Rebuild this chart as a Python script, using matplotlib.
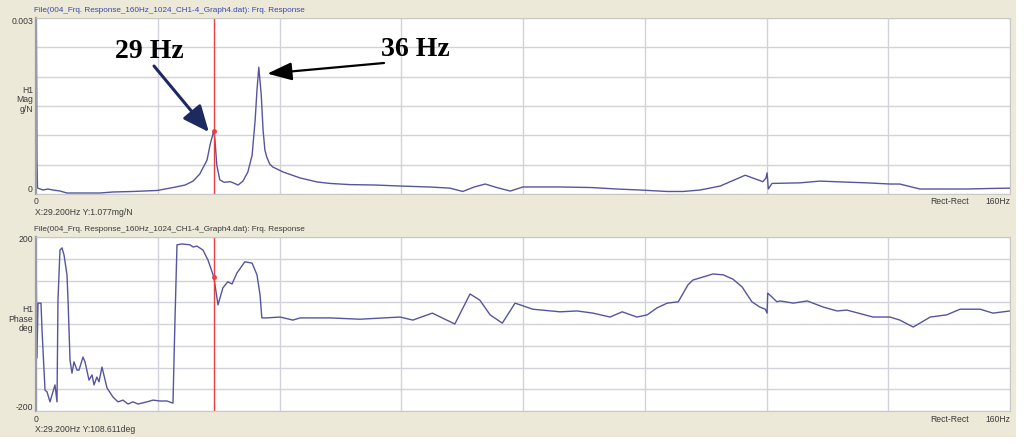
import matplotlib
matplotlib.use("Agg")
import matplotlib.pyplot as plt
from matplotlib.patches import Rectangle

# ---------------- data ----------------
mag_freq = [0.0, 0.16, 0.25, 1.15, 1.97, 2.79, 3.94, 5.09, 7.23, 10.5, 12.6, 15.9, 19.9,
            22.5, 24.5, 25.8, 26.9, 28.1, 28.6, 29.2, 29.4, 29.7, 30.2, 30.9, 31.9, 32.4,
            33.2, 34.0, 34.8, 35.5, 36.0, 36.3, 36.6, 37.0, 37.3, 37.6, 37.9, 38.4, 38.9,
            40.6, 43.4, 46.2, 48.3, 51.6, 55.7, 59.8, 64.7, 68.0, 70.1, 72.0, 73.8, 75.7,
            77.9, 80.0, 86.1, 91.3, 95.4, 99.2, 103.7, 106.3, 109.1, 112.4, 116.5, 119.4,
            119.9, 120.1, 120.3, 120.9, 125.5, 128.8, 133.7, 136.5, 140.3, 141.9, 145.2,
            147.3, 152.9, 156.7, 160.0]
mag_vals = [0.0040, 0.00058, 0.000102, 0.000068, 0.000085, 0.000068, 0.000051, 0.000017,
            0.000017, 0.000017, 0.000034, 0.000043, 0.000060, 0.00011, 0.000153, 0.00022,
            0.00034, 0.00058, 0.00084, 0.001077, 0.00092, 0.00049, 0.00024, 0.00020,
            0.00021, 0.00019, 0.000153, 0.00022, 0.000375, 0.00066, 0.00126, 0.00177,
            0.00216, 0.00169, 0.00109, 0.00075, 0.00063, 0.00051, 0.00046, 0.000375,
            0.000273, 0.000205, 0.00018, 0.00016, 0.000153, 0.000136, 0.000119, 0.00010,
            0.000043, 0.00012, 0.00017, 0.00011, 0.00005, 0.00012, 0.00012, 0.00011,
            0.000085, 0.000068, 0.000043, 0.000043, 0.000068, 0.000136, 0.00032, 0.00021,
            0.00027, 0.00036, 0.000085, 0.00018, 0.00019, 0.00022, 0.00020, 0.00019,
            0.00017, 0.00017, 0.000085, 0.000085, 0.000085, 0.000094, 0.00010]

ph_freq = [0.0, 0.16, 0.33, 0.82, 0.99, 1.48, 1.81, 2.3, 3.12, 3.45, 3.61, 3.94, 4.27, 4.6,
           5.09, 5.26, 5.59, 5.91, 6.24, 6.74, 7.06, 7.72, 8.05, 8.71, 9.2, 9.53, 10.0,
           10.35, 10.84, 11.66, 12.65, 13.47, 14.29, 15.11, 15.93, 16.76, 18.23, 19.22,
           20.37, 21.52, 22.5, 22.83, 23.16, 23.98, 25.3, 25.8, 26.45, 27.43, 28.25, 29.2,
           29.9, 30.7, 31.5, 32.2, 33.0, 34.3, 35.5, 36.3, 36.8, 37.1, 37.9, 40.1, 42.2,
           43.4, 48.3, 53.2, 59.8, 61.9, 65.1, 68.8, 71.3, 72.9, 74.6, 76.6, 78.7, 81.6,
           86.1, 88.9, 91.5, 94.3, 96.3, 98.7, 100.4, 102.0, 103.7, 105.5, 107.1, 107.9,
           109.1, 111.2, 112.9, 114.5, 116.0, 117.6, 118.9, 119.8, 120.1, 120.2, 120.9,
           121.7, 122.2, 124.4, 126.7, 129.3, 131.6, 133.2, 137.5, 140.3, 141.9, 144.1,
           146.9, 149.6, 151.8, 155.1, 157.2, 160.0]
ph_vals = [186, -78, 48, 48, -14, -152, -156, -179, -140, -179, 55, 170, 175, 159, 113, 55,
           -83, -113, -87, -106, -106, -76, -87, -129, -117, -140, -122, -133, -99, -147,
           -168, -179, -175, -184, -179, -184, -179, -175, -177, -177, -182, 9, 182, 184,
           182, 177, 179, 170, 147, 108.6, 44, 83, 97, 92, 117, 143, 140, 113, 67, 14, 14,
           16, 9, 14, 14, 11, 16, 9, 25, 0, 69, 55, 21, 2, 48, 34, 28, 30, 25, 16, 28, 16,
           21, 37, 48, 51, 90, 101, 106, 115, 113, 103, 85, 51, 39, 34, 25, 71, 62, 51, 53,
           48, 53, 39, 30, 32, 16, 16, 9, -7, 16, 21, 34, 34, 25, 30]

cursor_freq = 29.2
cursor_mag = 0.001077
cursor_phase = 108.611
peak_labels = ["29 Hz", "36 Hz"]
peak_freqs = [29.2, 36.6]
peak_mags = [0.001077, 0.00216]

title_txt = "File(004_Frq. Response_160Hz_1024_CH1-4_Graph4.dat): Frq. Response"

# ---------------- figure ----------------
W, H = 1024, 446
fig = plt.figure(figsize=(W / 100, H / 100), dpi=100, facecolor="white")
BEIGE = "#ECE9D8"
fig.patches.append(Rectangle((0, 1 - 437 / H), 1016 / W, 437 / H,
                             transform=fig.transFigure, facecolor=BEIGE,
                             edgecolor="none", zorder=-10))

LINE = "#55559E"
GRID = "#D2D2DA"
RED = "#E84040"
TXT = "#3A3A3A"
FONT = "Liberation Sans"
FS = 6.2


def px_axes(left, top, right, bottom):
    return fig.add_axes([left / W, 1 - bottom / H, (right - left) / W, (bottom - top) / H])


def ftext(x, y, s, **kw):
    kw.setdefault("fontsize", FS)
    kw.setdefault("family", FONT)
    kw.setdefault("color", TXT)
    kw.setdefault("va", "center")
    fig.text(x / W, 1 - y / H, s, **kw)


def style(ax, yticks):
    ax.set_facecolor("white")
    ax.set_xlim(0, 160)
    ax.set_xticks(range(0, 161, 20))
    ax.set_yticks(yticks)
    ax.tick_params(length=0, labelbottom=False, labelleft=False)
    ax.grid(True, color=GRID, lw=1.0)
    ax.set_axisbelow(True)
    for s in ax.spines.values():
        s.set_color("#C8C8C8")
        s.set_linewidth(0.8)
    ax.spines["left"].set_color("#9A9AB0")
    ax.spines["left"].set_linewidth(1.6)


# top: magnitude
ax1 = px_axes(36, 18, 1010, 194)
ax1.set_ylim(0, 0.003)
style(ax1, [i * 0.0005 for i in range(7)])
ax1.plot(mag_freq, mag_vals, color=LINE, lw=1.0)
ax1.axvline(cursor_freq, color=RED, lw=1.0)
ax1.plot([cursor_freq], [cursor_mag], marker="o", ms=2.5, color=RED)

# bottom: phase
ax2 = px_axes(36, 237, 1010, 411)
ax2.set_ylim(-200, 200)
style(ax2, range(-200, 201, 50))
ax2.plot(ph_freq, ph_vals, color=LINE, lw=1.0)
ax2.axvline(cursor_freq, color=RED, lw=1.0)
ax2.plot([cursor_freq], [cursor_phase], marker="o", ms=2.5, color=RED)

# ---------------- texts ----------------
ftext(34, 11, title_txt, ha="left", color="#3848B0", fontsize=5.9)
ftext(33, 22, "0.003", ha="right")
ftext(33, 100, "H1\nMag\ng/N", ha="right", linespacing=1.05)
ftext(33, 190, "0", ha="right")
ftext(36, 201, "0", ha="center")
ftext(35, 212, "X:29.200Hz Y:1.077mg/N", ha="left")
ftext(930, 202, "Rect-Rect", ha="left")
ftext(1010, 202, "160Hz", ha="right")

ftext(34, 229, title_txt, ha="left", fontsize=5.9)
ftext(33, 240, "200", ha="right")
ftext(33, 319, "H1\nPhase\ndeg", ha="right", linespacing=1.05)
ftext(33, 408, "-200", ha="right")
ftext(36, 419, "0", ha="center")
ftext(35, 430, "X:29.200Hz Y:108.611deg", ha="left")
ftext(930, 419, "Rect-Rect", ha="left")
ftext(1010, 419, "160Hz", ha="right")

# ---------------- annotations ----------------
ftext(149, 51, peak_labels[0], ha="center", fontsize=20, family="Liberation Serif",
      weight="bold", color="black")
ftext(415, 49, peak_labels[1], ha="center", fontsize=20, family="Liberation Serif",
      weight="bold", color="black")

ax1.annotate("", xy=(peak_freqs[0] - 0.8, peak_mags[0] * 0.98),
             xytext=(154 / W, 1 - 66 / H), textcoords="figure fraction",
             arrowprops=dict(arrowstyle="-|>,head_length=1.6,head_width=0.7",
                             color="#1C2A60", lw=2.2, mutation_scale=10,
                             shrinkA=0, shrinkB=0))
ax1.annotate("", xy=(peak_freqs[1] + 1.4, peak_mags[1] * 0.95),
             xytext=(384 / W, 1 - 63 / H), textcoords="figure fraction",
             arrowprops=dict(arrowstyle="-|>,head_length=1.5,head_width=0.55",
                             color="black", lw=1.6, mutation_scale=10,
                             shrinkA=0, shrinkB=0))

fig.savefig("out.png", dpi=100, facecolor="white")
